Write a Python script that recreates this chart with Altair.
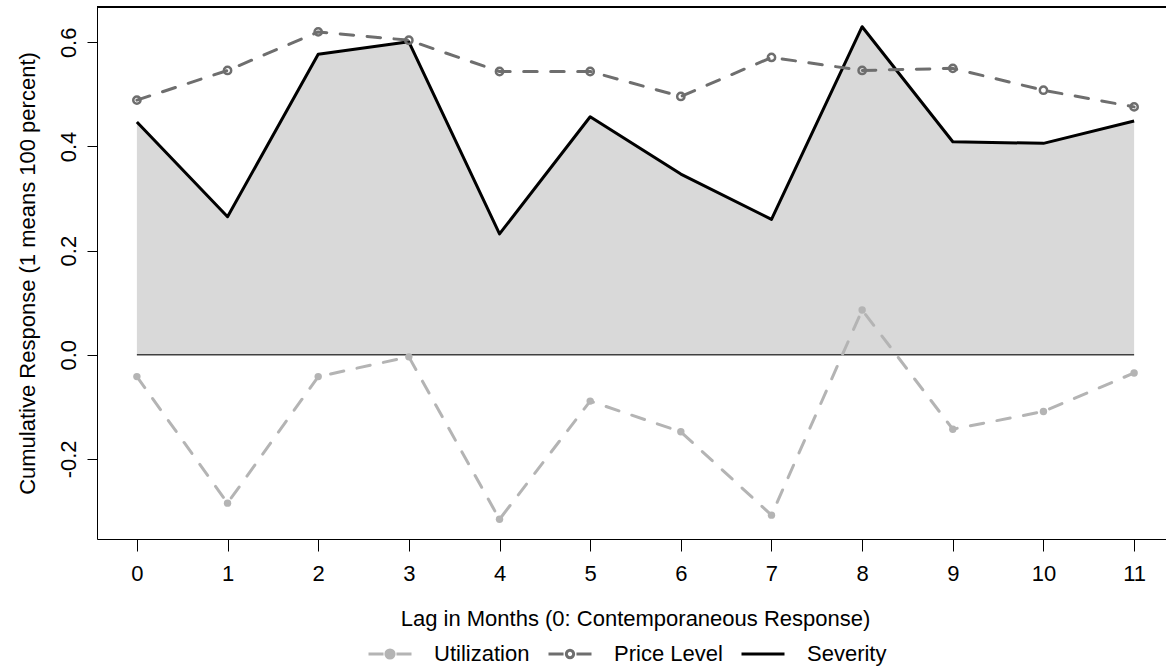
import altair as alt
import pandas as pd

# ---- data ----
lags = list(range(12))
severity = [0.447, 0.265, 0.577, 0.601, 0.232, 0.457, 0.347, 0.260, 0.630, 0.409, 0.406, 0.449]
price_level = [0.489, 0.546, 0.620, 0.604, 0.544, 0.544, 0.496, 0.571, 0.546, 0.550, 0.508, 0.476]
utilization = [-0.042, -0.285, -0.042, -0.004, -0.316, -0.089, -0.148, -0.308, 0.086, -0.143, -0.109, -0.035]
series_names = ["Utilization", "Price Level", "Severity"]
y_ticks = [-0.2, 0.0, 0.2, 0.4, 0.6]

UTIL = "#b4b4b4"
PRICE = "#6e6e6e"
SEV = "#000000"
FONT = "Liberation Sans"

df = pd.DataFrame({"lag": lags, "Severity": severity, "Price": price_level, "Util": utilization})
legend_df = pd.DataFrame({"series": series_names, "lag": [None] * 3, "v": [None] * 3})

# R-style 4% axis extension
all_vals = severity + price_level + utilization
lo, hi = min(all_vals), max(all_vals)
r = hi - lo
y_dom = [lo - 0.04 * r, hi + 0.04 * r]
x_dom = [-0.44, -0.44 + 11.88 * 1069 / 1077]

x_scale = alt.Scale(domain=x_dom, nice=False, zero=False)
y_scale = alt.Scale(domain=y_dom, nice=False, zero=False)

x_axis = alt.Axis(
    values=lags, format="d", grid=False, tickSize=12, tickColor="black", tickWidth=1,
    domainColor="black", domainWidth=1, labelFontSize=22, labelFont=FONT, labelColor="black",
    labelBaseline="alphabetic", labelPadding=29, labelFlush=False, labelOverlap=False,
    title="Lag in Months (0: Contemporaneous Response)", titleFontSize=22, titleFont=FONT,
    titleFontWeight="normal", titleColor="black", titleBaseline="alphabetic",
    titleAlign="center", titleX=538, titleY=86,
)
y_axis = alt.Axis(
    values=y_ticks, grid=False, tickSize=10, tickColor="black", tickWidth=1,
    domainColor="black", domainWidth=1, labelFontSize=22, labelFont=FONT, labelColor="black",
    labelAngle=270, labelAlign="center", labelBaseline="alphabetic", labelPadding=12,
    labelFlush=False, labelOverlap=False,
    labelExpr="datum.value < 0 ? '-' + format(-datum.value, '.1f') : format(datum.value, '.1f')",
    title="Cumulative Response (1 means 100 percent)", titleFontSize=22, titleFont=FONT,
    titleFontWeight="normal", titleColor="black", titleAngle=270, titleAlign="center",
    titleBaseline="alphabetic", titleX=-63, titleY=266,
)

base = alt.Chart(df).encode(x=alt.X("lag:Q", scale=x_scale, axis=x_axis))

area = base.mark_area(color="#d9d9d9", opacity=1).encode(
    y=alt.Y("Severity:Q", scale=y_scale, axis=y_axis), y2=alt.datum(0)
)
zero_line = base.mark_line(color="#404040", strokeWidth=1.5).encode(y=alt.datum(0))
sev_line = base.mark_line(color=SEV, strokeWidth=3, strokeJoin="round").encode(y="Severity:Q")
util_line = base.mark_line(color=UTIL, strokeWidth=3, strokeDash=[13.5, 13.5],
                           strokeCap="round", strokeJoin="round").encode(y="Util:Q")
util_pts = base.mark_circle(color=UTIL, size=55, opacity=1).encode(y="Util:Q")
price_line = base.mark_line(color=PRICE, strokeWidth=3, strokeDash=[13.5, 13.5],
                            strokeCap="round", strokeJoin="round").encode(y="Price:Q")
price_pts = base.mark_point(shape="circle", filled=False, color=PRICE, size=53,
                            strokeWidth=2.5, opacity=1).encode(y="Price:Q")

top_frame = alt.Chart(df).mark_rule(color="black", strokeWidth=1).encode(y=alt.datum(y_dom[1]))

# legend-only layer (rows have no position, so nothing is drawn)
util_path = "M-1,0H-0.3M0.3,0H1M0.19,0A0.19,0.19,0,1,1,-0.19,0A0.19,0.19,0,1,1,0.19,0Z"
price_path = "M-1,0H-0.3M0.3,0H1M0.17,0A0.17,0.17,0,1,1,-0.17,0A0.17,0.17,0,1,1,0.17,0Z"
sev_path = "M-1,0H1"
leg = alt.Legend(
    title=None, orient="none", direction="horizontal", legendX=270, legendY=624,
    symbolSize=1849, symbolStrokeWidth=3, symbolOpacity=1, labelFontSize=22, labelFont=FONT,
    labelColor="black", labelOffset=21, columnPadding=12, labelLimit=400, padding=0,
)
legend_layer = alt.Chart(legend_df).mark_point(strokeWidth=3).encode(
    x=alt.X("lag:Q", scale=x_scale),
    y=alt.Y("v:Q", scale=y_scale),
    shape=alt.Shape("series:N", scale=alt.Scale(domain=series_names,
                                                range=[util_path, price_path, sev_path]), legend=leg),
    stroke=alt.Stroke("series:N", scale=alt.Scale(domain=series_names, range=[UTIL, PRICE, SEV]),
                      legend=leg),
    fill=alt.Fill("series:N", scale=alt.Scale(domain=series_names, range=[UTIL, "#ffffff", "#ffffff"]),
                  legend=leg),
)

chart = alt.layer(
    area, zero_line, sev_line, util_line, util_pts, price_line, price_pts, top_frame, legend_layer
).properties(
    width=1069, height=532,
    autosize=alt.AutoSizeParams(type="none"),
    padding={"left": 97, "top": 7, "right": 0, "bottom": 129},
).configure_view(stroke=None).configure(background="white")

chart.save("out.html", embed_options={"renderer": "svg", "actions": False})
